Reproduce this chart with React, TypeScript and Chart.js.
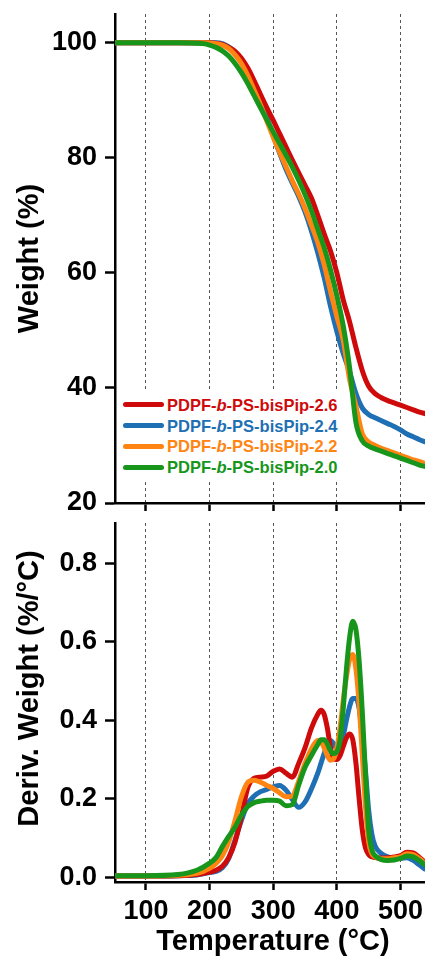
import React, { useEffect, useRef } from "react";
import { Chart, registerables } from "chart.js";

Chart.register(...registerables);

const FONT = '"Liberation Sans", Arial, Helvetica, sans-serif';

// ---------- data ----------
const seriesSuffix = ["2.6", "2.4", "2.2", "2.0"];
const seriesColors = ["#CF0A0A", "#1E6FB3", "#FF8412", "#17961B"];
const seriesOrder = [2, 3, 1, 0];

const xTicks = [100, 200, 300, 400, 500];
const weightTicks = [20, 40, 60, 80, 100];
const derivTicks = [0, 0.2, 0.4, 0.6, 0.8];

const weightTemps = [50, 100, 150, 170, 180, 190, 200, 210, 220, 230, 240, 250, 260, 270, 280, 290, 300, 310, 320, 330, 340, 350, 360, 370, 380, 390, 400, 410, 420, 430, 440, 450, 460, 470, 480, 490, 500, 510, 520, 530, 540];

const weight26 = [100, 100, 100, 100, 100, 100, 100, 99.9, 99.7, 99.2, 98.5, 97.3, 95.6, 93.4, 91.0, 88.7, 86.5, 84.2, 81.9, 79.6, 77.4, 75.2, 73.0, 70.0, 66.8, 63.8, 60.0, 55.3, 51.5, 47.0, 43.0, 40.3, 39.0, 38.3, 37.8, 37.4, 37.0, 36.6, 36.2, 35.8, 35.5];
const weight24 = [100, 100, 100, 100, 100, 100, 100, 100, 99.85, 99.3, 98.4, 97.0, 95.0, 92.5, 89.8, 87.0, 83.8, 80.8, 78.0, 75.6, 73.3, 70.6, 67.3, 63.5, 59.2, 54.2, 49.8, 46.0, 42.8, 39.0, 36.5, 35.4, 34.8, 34.3, 33.8, 33.3, 32.7, 32.0, 31.5, 31.0, 30.6];
const weight22 = [100, 100, 100, 100, 100, 100, 99.95, 99.85, 99.6, 99.0, 97.9, 96.4, 94.3, 91.8, 89.2, 86.4, 83.6, 81.0, 78.5, 76.0, 73.7, 71.2, 68.3, 65.3, 61.5, 56.8, 52.4, 48.3, 41.5, 36.8, 32.0, 30.6, 30.0, 29.5, 29.1, 28.7, 28.3, 27.9, 27.5, 27.2, 26.8];
const weight20 = [100, 100, 100, 99.97, 99.93, 99.85, 99.6, 99.2, 98.6, 97.7, 96.4, 94.8, 92.9, 90.8, 88.7, 86.6, 84.5, 82.5, 80.5, 78.4, 76.1, 73.6, 70.8, 67.6, 64.4, 60.5, 56.0, 50.8, 43.5, 34.0, 30.8, 29.9, 29.4, 29.0, 28.6, 28.2, 27.8, 27.4, 27.0, 26.6, 26.3];

const derivTemps = [50, 100, 150, 180, 200, 210, 220, 230, 240, 250, 260, 270, 280, 290, 300, 310, 320, 330, 340, 350, 360, 370, 375, 380, 385, 390, 395, 400, 405, 410, 415, 420, 425, 430, 435, 440, 445, 450, 455, 460, 470, 480, 490, 500, 510, 520, 530, 540];

const deriv26 = [0.003, 0.003, 0.004, 0.007, 0.013, 0.018, 0.028, 0.05, 0.09, 0.155, 0.228, 0.252, 0.255, 0.258, 0.27, 0.276, 0.265, 0.255, 0.29, 0.33, 0.38, 0.415, 0.425, 0.415, 0.38, 0.33, 0.302, 0.30, 0.31, 0.333, 0.355, 0.365, 0.35, 0.29, 0.2, 0.12, 0.075, 0.058, 0.052, 0.05, 0.049, 0.05, 0.052, 0.055, 0.064, 0.062, 0.05, 0.036];
const deriv24 = [0.003, 0.003, 0.004, 0.006, 0.012, 0.015, 0.024, 0.048, 0.095, 0.145, 0.187, 0.207, 0.218, 0.224, 0.23, 0.234, 0.222, 0.198, 0.178, 0.192, 0.225, 0.265, 0.29, 0.315, 0.337, 0.348, 0.34, 0.327, 0.333, 0.36, 0.40, 0.435, 0.455, 0.455, 0.43, 0.36, 0.27, 0.17, 0.11, 0.08, 0.06, 0.052, 0.049, 0.048, 0.05, 0.043, 0.031, 0.019];
const deriv22 = [0.003, 0.003, 0.005, 0.01, 0.023, 0.035, 0.055, 0.09, 0.145, 0.205, 0.242, 0.247, 0.242, 0.234, 0.226, 0.215, 0.205, 0.207, 0.245, 0.29, 0.327, 0.348, 0.345, 0.33, 0.31, 0.298, 0.302, 0.33, 0.38, 0.45, 0.51, 0.555, 0.567, 0.53, 0.44, 0.31, 0.18, 0.09, 0.06, 0.052, 0.047, 0.047, 0.05, 0.052, 0.06, 0.058, 0.047, 0.033];
const deriv20 = [0.004, 0.004, 0.007, 0.018, 0.036, 0.05, 0.078, 0.104, 0.128, 0.158, 0.18, 0.19, 0.194, 0.196, 0.196, 0.194, 0.182, 0.185, 0.235, 0.28, 0.31, 0.338, 0.35, 0.35, 0.34, 0.322, 0.315, 0.32, 0.35, 0.43, 0.53, 0.61, 0.652, 0.63, 0.55, 0.42, 0.26, 0.12, 0.07, 0.055, 0.045, 0.043, 0.044, 0.048, 0.054, 0.052, 0.042, 0.03];

// ---------- layout constants ----------
const X_MIN = 51.3;
const X_MAX = 538.5;
const TICK_FONT = { family: FONT, size: 27, weight: "bold" as const, lineHeight: "30px" };
const TITLE_SIZE = 29;

function makeDatasets(temps: number[], series: number[][]) {
  return series.map((vals, i) => ({
    label: "PDPF-b-PS-bisPip-" + seriesSuffix[i],
    data: temps.map((t, j) => ({ x: t, y: vals[j] })),
    borderColor: seriesColors[i],
    backgroundColor: seriesColors[i],
    borderWidth: 5,
    pointRadius: 0,
    cubicInterpolationMode: "monotone" as const,
    fill: false,
    order: seriesOrder[i],
  }));
}

function xScale(showLabels: boolean, height: number) {
  return {
    type: "linear" as const,
    min: X_MIN,
    max: X_MAX,
    afterBuildTicks: (s: any) => {
      s.ticks = xTicks.map((v) => ({ value: v }));
    },
    afterFit: (s: any) => {
      s.height = height;
    },
    ticks: {
      display: showLabels,
      color: "#000",
      font: { ...TICK_FONT, lineHeight: "43px" },
      padding: 0,
      maxRotation: 0,
      minRotation: 0,
      autoSkip: false,
      callback: (v: any) => String(v),
    },
    grid: {
      display: true,
      drawOnChartArea: true,
      color: "#555",
      lineWidth: 1,
      drawTicks: true,
      tickLength: 8,
      tickColor: "#000",
      tickWidth: 2.5,
      tickBorderDash: [],
    },
    border: { display: true, color: "#000", width: 2.5, dash: [3, 3] },
  };
}

function yScale(min: number, max: number, ticks: number[], fmt: (v: number) => string) {
  return {
    type: "linear" as const,
    min,
    max,
    afterBuildTicks: (s: any) => {
      s.ticks = ticks.map((v) => ({ value: v }));
    },
    afterFit: (s: any) => {
      s.width = 115;
    },
    ticks: {
      color: "#000",
      font: TICK_FONT,
      padding: 8,
      callback: (v: any) => fmt(Number(v)),
    },
    grid: {
      display: true,
      drawOnChartArea: false,
      drawTicks: true,
      tickLength: 10,
      tickColor: "#000",
      tickWidth: 2.5,
      tickBorderDash: [],
    },
    border: { display: true, color: "#000", width: 2.5 },
  };
}

type TitleItem = { text: string; vertical: boolean; dx: number; dy: number };

function titlesPlugin(items: TitleItem[]) {
  return {
    id: "axisTitles",
    afterDraw(chart: any) {
      const { ctx, chartArea } = chart;
      items.forEach((it) => {
        ctx.save();
        ctx.font = `bold ${TITLE_SIZE}px ${FONT}`;
        ctx.fillStyle = "#000";
        ctx.textAlign = "center";
        ctx.textBaseline = "alphabetic";
        const cx = it.vertical ? chartArea.left + it.dx : (chartArea.left + chartArea.right) / 2 + it.dx;
        const cy = it.vertical ? (chartArea.top + chartArea.bottom) / 2 + it.dy : chartArea.bottom + it.dy;
        ctx.translate(cx, cy);
        if (it.vertical) ctx.rotate(-Math.PI / 2);
        ctx.fillText(it.text, 0, 0);
        ctx.restore();
      });
    },
  };
}

const TOP_CANVAS = { top: -9, height: 535 };
const BOTTOM_CANVAS = { top: 500, height: 456 };

export default function App() {
  const topRef = useRef<HTMLCanvasElement | null>(null);
  const botRef = useRef<HTMLCanvasElement | null>(null);

  useEffect(() => {
    if (!topRef.current || !botRef.current) return;
    const common = {
      responsive: false,
      maintainAspectRatio: false,
      animation: false as const,
      devicePixelRatio: 1,
      events: [] as any[],
      layout: { padding: 0 },
      plugins: { legend: { display: false }, tooltip: { enabled: false }, title: { display: false } },
    };

    const top = new Chart(topRef.current, {
      type: "line",
      data: { datasets: makeDatasets(weightTemps, [weight26, weight24, weight22, weight20]) as any },
      options: {
        ...common,
        scales: {
          x: xScale(false, 10),
          y: yScale(20, 105, weightTicks, (v) => String(Math.round(v))),
        },
      } as any,
      plugins: [titlesPlugin([{ text: "Weight (%)", vertical: true, dx: -77, dy: 0 }])],
    });

    const bot = new Chart(botRef.current, {
      type: "line",
      data: { datasets: makeDatasets(derivTemps, [deriv26, deriv24, deriv22, deriv20]) as any },
      options: {
        ...common,
        scales: {
          x: xScale(true, 74),
          y: yScale(-0.012, 0.902, derivTicks, (v) => v.toFixed(1)),
        },
      } as any,
      plugins: [
        titlesPlugin([
          { text: "Deriv. Weight (%/°C)", vertical: true, dx: -77, dy: -14 },
          { text: "Temperature (°C)", vertical: false, dx: 3, dy: 68 },
        ]),
      ],
    });

    return () => {
      top.destroy();
      bot.destroy();
    };
  }, []);

  return (
    <div
      style={{
        position: "absolute",
        left: 0,
        top: 0,
        width: 425,
        height: 956,
        overflow: "hidden",
        background: "#fff",
      }}
    >
      <canvas
        ref={topRef}
        width={425}
        height={TOP_CANVAS.height}
        style={{ position: "absolute", left: 0, top: TOP_CANVAS.top, width: 425, height: TOP_CANVAS.height }}
      />
      <canvas
        ref={botRef}
        width={425}
        height={BOTTOM_CANVAS.height}
        style={{ position: "absolute", left: 0, top: BOTTOM_CANVAS.top, width: 425, height: BOTTOM_CANVAS.height }}
      />
      <div
        style={{
          position: "absolute",
          left: 117,
          top: 391,
          width: 224,
          height: 88,
          background: "#fff",
        }}
      >
        {seriesSuffix.map((s, i) => (
          <div
            key={s}
            style={{
              position: "absolute",
              left: 0,
              top: 3.7 + i * 20.8,
              height: 20,
              display: "flex",
              alignItems: "center",
              whiteSpace: "nowrap",
            }}
          >
            <div
              style={{
                marginLeft: 6,
                width: 41,
                height: 5,
                borderRadius: 3,
                background: seriesColors[i],
              }}
            />
            <span
              style={{
                marginLeft: 3,
                fontFamily: FONT,
                fontWeight: "bold",
                fontSize: 16.5,
                color: seriesColors[i],
                lineHeight: "20px",
              }}
            >
              PDPF-<i>b</i>-PS-bisPip-{s}
            </span>
          </div>
        ))}
      </div>
    </div>
  );
}
